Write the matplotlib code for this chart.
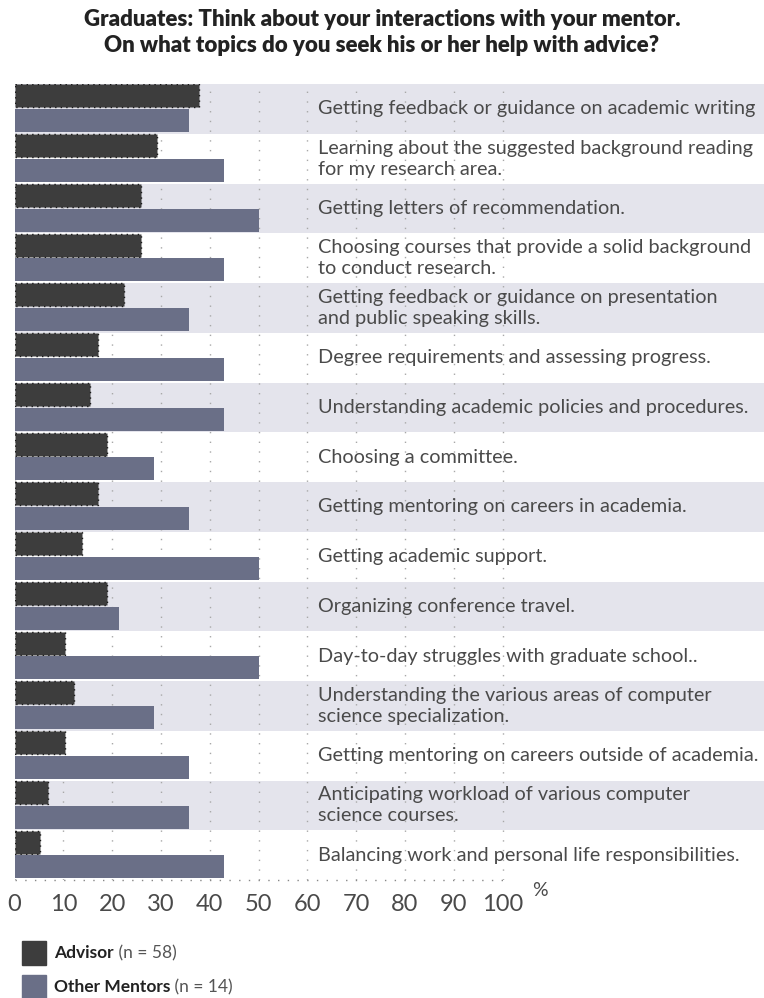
import matplotlib.pyplot as plt
import matplotlib.patches as mpatches
import numpy as np

plt.rcParams['font.family'] = ['Lato', 'DejaVu Sans']

topics = [
    "Getting feedback or guidance on academic writing",
    "Learning about the suggested background reading\nfor my research area.",
    "Getting letters of recommendation.",
    "Choosing courses that provide a solid background\nto conduct research.",
    "Getting feedback or guidance on presentation\nand public speaking skills.",
    "Degree requirements and assessing progress.",
    "Understanding academic policies and procedures.",
    "Choosing a committee.",
    "Getting mentoring on careers in academia.",
    "Getting academic support.",
    "Organizing conference travel.",
    "Day-to-day struggles with graduate school..",
    "Understanding the various areas of computer\nscience specialization.",
    "Getting mentoring on careers outside of academia.",
    "Anticipating workload of various computer\nscience courses.",
    "Balancing work and personal life responsibilities.",
]
advisor = [37.9, 29.3, 25.9, 25.9, 22.4, 17.2, 15.5, 19.0,
           17.2, 13.8, 19.0, 10.3, 12.1, 10.3, 6.9, 5.2]
other_mentors = [35.7, 42.9, 50.0, 42.9, 35.7, 42.9, 42.9, 28.6,
                 35.7, 50.0, 21.4, 50.0, 28.6, 35.7, 35.7, 42.9]
ticks = list(range(0, 101, 10))

W, H = 764, 998
fig = plt.figure(figsize=(W / 100, H / 100), dpi=100)
x0, x100 = 14.5, 502.5
px_per = (x100 - x0) / 100
xmax = (W - x0) / px_per
ax = fig.add_axes([x0 / W, 1 - 880 / H, (W - x0) / W, (880 - 84) / H])

n = len(topics)
y = np.arange(n)
for i in range(0, n, 2):
    ax.axhspan(i, i + 1, color="#e4e4ec", lw=0, zorder=0)

for t in ticks:
    ax.axvline(t, color="#a8a8a8", lw=1, ls=(0, (1, 6)), zorder=1)

ax.barh(y + 0.24, advisor, height=0.46, color="#3d3d3d",
        edgecolor="#1a1a1a", lw=1, ls=(0, (1, 3)), zorder=2)
ax.barh(y + 0.735, other_mentors, height=0.46, color="#6a6f87", lw=0, zorder=2)

for i, label in enumerate(topics):
    ax.text(62.2, i + 0.5, label, ha="left", va="center", fontsize=14.3,
            color="#4a4a4a", linespacing=1.3, zorder=3)

ax.plot([0, 100], [n, n], color="#888888", lw=1, ls=(0, (1, 6)),
        zorder=3, clip_on=False)

ax.set_xlim(0, xmax)
ax.set_ylim(n, 0)
ax.set_yticks([])
ax.set_xticks(ticks)
ax.set_xticklabels([str(t) for t in ticks], fontsize=17, color="#4a4a4a")
ax.tick_params(axis="x", length=0, pad=10)
for s in ax.spines.values():
    s.set_visible(False)

ax.text(106, n + 0.05, "%", fontsize=14, color="#4a4a4a",
        ha="left", va="top", clip_on=False)

fig.text(0.5, 1 - 19 / H, "Graduates: Think about your interactions with your mentor.",
         ha="center", va="center", fontsize=16, fontweight="heavy", color="#222222")
fig.text(0.5, 1 - 46 / H, "On what topics do you seek his or her help with advice?",
         ha="center", va="center", fontsize=16, fontweight="heavy", color="#222222")

# legend
legend_items = [("Advisor", " (n = 58)", "#3d3d3d", 953),
                ("Other Mentors", " (n = 14)", "#6a6f87", 987)]
for name, count, color, yc in legend_items:
    fig.patches.append(mpatches.Rectangle((22 / W, 1 - (yc + 12) / H), 24 / W, 24 / H,
                                          transform=fig.transFigure, color=color))
    t = fig.text(54 / W, 1 - yc / H, name, ha="left", va="center",
                 fontsize=12.5, fontweight="bold", color="#222222")
    fig.canvas.draw()
    bb = t.get_window_extent()
    fig.text(bb.x1 / W, 1 - yc / H, count, ha="left", va="center",
             fontsize=12.5, color="#555555")

fig.savefig("out.png", dpi=100)
